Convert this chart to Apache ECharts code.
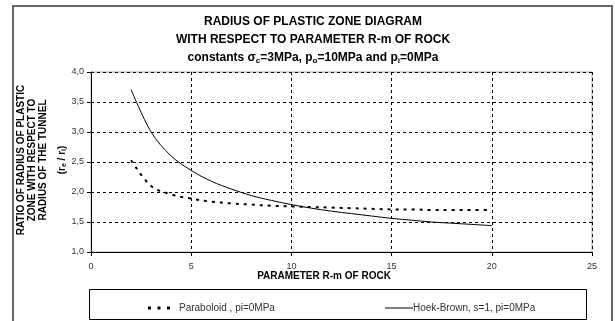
<!DOCTYPE html>
<html><head><meta charset="utf-8">
<script src="https://cdn.jsdelivr.net/npm/echarts@6/dist/echarts.min.js"></script>
<style>html,body{margin:0;padding:0;background:#fff}#c{width:615px;height:321px}</style>
</head><body><div id="c"></div>
<script>
var rm = [2,3,4,5,6,7,8,9,10,11,12,13,14,15,16,17,18,19,20];
var paraboloid = [2.53,2.10,1.96,1.89,1.84,1.81,1.79,1.77,1.76,1.75,1.74,1.73,1.72,1.71,1.71,1.70,1.70,1.70,1.70];
var hoekBrown = [3.71,3.00,2.60,2.36,2.18,2.05,1.94,1.86,1.79,1.73,1.68,1.64,1.60,1.56,1.53,1.50,1.48,1.46,1.44];
var seriesNames = ['Paraboloid , pi=0MPa','Hoek-Brown, s=1, pi=0MPa'];
var titleLines = ['RADIUS OF PLASTIC ZONE DIAGRAM','WITH RESPECT TO PARAMETER R-m OF ROCK'];
var yNameLines = ['RATIO OF RADIUS OF PLASTIC','ZONE WITH RESPECT TO','RADIUS OF THE TUNNEL'];
var xName = 'PARAMETER R-m OF ROCK';

var F = 'Liberation Sans, Arial, sans-serif';
function pairs(xs, ys){ return xs.map(function(x,i){return [x, ys[i]];}); }
var chart = echarts.init(document.getElementById('c'), null, {renderer:'canvas'});
var bold = {fontFamily:F, fontWeight:'bold', fill:'#000'};
chart.setOption({
  animation:false,
  backgroundColor:'#fff',
  grid:{left:91, right:23, top:72, bottom:69, show:true, borderColor:'#aaa', borderWidth:1, backgroundColor:'transparent'},
  xAxis:{type:'value', min:0, max:25, interval:5,
    axisLine:{show:true, lineStyle:{color:'#000', width:1}},
    axisTick:{show:true, length:4, lineStyle:{color:'#000'}},
    axisLabel:{fontFamily:F, fontSize:9, color:'#333', margin:10},
    splitLine:{show:true, lineStyle:{color:'#000', type:[3,3], width:1}}},
  yAxis:{type:'value', min:1, max:4, interval:0.5,
    axisLine:{show:true, lineStyle:{color:'#000', width:1}},
    axisTick:{show:true, length:4, lineStyle:{color:'#000'}},
    axisLabel:{fontFamily:F, fontSize:9, color:'#333', margin:7, formatter:function(v){return v.toFixed(1).replace('.',',');}},
    splitLine:{show:true, lineStyle:{color:'#000', type:[3,3], width:1}}},
  legend:[
    {left:143, top:298, itemWidth:22, itemHeight:3,
      data:[{name:seriesNames[0], icon:'path://M0,0h3v3h-3z M9.5,0h3v3h-3z M19,0h3v3h-3z'}],
      textStyle:{fontFamily:F, fontSize:10, color:'#333', padding:[0,0,0,4]}},
    {left:380, top:298, itemWidth:28, itemHeight:1,
      data:[{name:seriesNames[1], icon:'path://M0,0h28v1h-28z'}],
      textStyle:{fontFamily:F, fontSize:10, color:'#333', padding:[0,0,0,-5]}}
  ],
  series:[
    {name:seriesNames[0], type:'line', smooth:0.35, showSymbol:false, symbol:'none', data:pairs(rm, paraboloid),
      lineStyle:{color:'#000', width:2, type:[3,5]}, itemStyle:{color:'#000'}},
    {name:seriesNames[1], type:'line', smooth:0.35, showSymbol:false, symbol:'none', data:pairs(rm, hoekBrown),
      lineStyle:{color:'#000', width:1}, itemStyle:{color:'#000'}}
  ],
  graphic:[
    {type:'rect', shape:{x:13, y:6, width:599, height:330}, style:{fill:'none', stroke:'#666', lineWidth:2}, z:-1},
    {type:'rect', shape:{x:89.5, y:289.5, width:497, height:30}, style:{fill:'none', stroke:'#000', lineWidth:1}},
    {type:'text', x:313, y:22, style:Object.assign({text:titleLines[0], fontSize:12, textAlign:'center', textVerticalAlign:'middle'}, bold)},
    {type:'text', x:313, y:40, style:Object.assign({text:titleLines[1], fontSize:12, textAlign:'center', textVerticalAlign:'middle'}, bold)},
    {type:'text', x:313, y:58, style:{text:'constants σ{s|c}=3MPa, p{s|o}=10MPa and p{s|i}=0MPa', fontFamily:F, fontWeight:'bold', fontSize:12, fill:'#000', textAlign:'center', textVerticalAlign:'middle',
      rich:{s:{fontSize:8, fontFamily:F, fontWeight:'bold', fill:'#000', padding:[6,0,0,0]}}}},
    {type:'text', x:324, y:276, style:Object.assign({text:xName, fontSize:10, textAlign:'center', textVerticalAlign:'middle'}, bold)},
    {type:'text', x:21, y:160, rotation:Math.PI/2, style:Object.assign({text:yNameLines[0], fontSize:10, textAlign:'center', textVerticalAlign:'middle'}, bold)},
    {type:'text', x:32, y:160, rotation:Math.PI/2, style:Object.assign({text:yNameLines[1], fontSize:10, textAlign:'center', textVerticalAlign:'middle'}, bold)},
    {type:'text', x:43, y:160, rotation:Math.PI/2, style:Object.assign({text:yNameLines[2], fontSize:10, textAlign:'center', textVerticalAlign:'middle'}, bold)},
    {type:'text', x:62, y:160, rotation:Math.PI/2, style:{text:'(r{s|e} / r{s|i})', fontFamily:F, fontWeight:'bold', fontSize:10, fill:'#000', textAlign:'center', textVerticalAlign:'middle',
      rich:{s:{fontSize:7, fontFamily:F, fontWeight:'bold', fill:'#000', padding:[5,0,0,0]}}}}
  ]
});
</script></body></html>
